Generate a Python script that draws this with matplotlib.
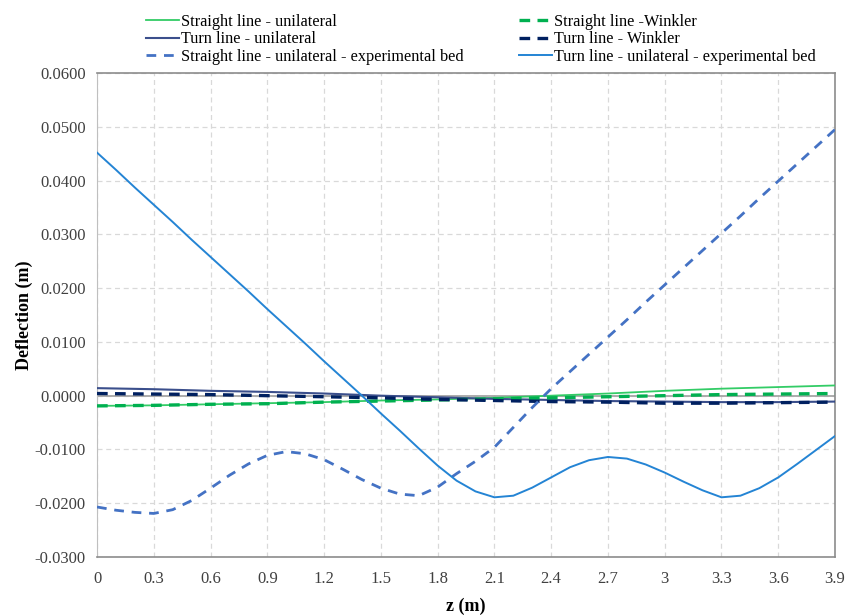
import matplotlib.pyplot as plt
from matplotlib.ticker import FixedLocator

plt.rcParams['font.family'] = ['Liberation Serif', 'DejaVu Serif']

# dense sampling for the experimental-bed curves
z_fine = [round(0.1 * i, 1) for i in range(40)]
turn_exp = [0.0452, 0.0420, 0.0387, 0.0355, 0.0323, 0.0290, 0.0258, 0.0226, 0.0194, 0.0161,
            0.0129, 0.0097, 0.0064, 0.0032, 0.0000, -0.0033, -0.0065, -0.0098, -0.0130, -0.0158,
            -0.0178, -0.0189, -0.0186, -0.0171, -0.0152, -0.0133, -0.0120, -0.0114, -0.0117, -0.0128,
            -0.0143, -0.0160, -0.0176, -0.0189, -0.0186, -0.0172, -0.0152, -0.0127, -0.0101, -0.0075]
straight_exp = [-0.0207, -0.0213, -0.0217, -0.0219, -0.0212, -0.0195, -0.0172, -0.0148, -0.0127, -0.0111,
                -0.0104, -0.0108, -0.0119, -0.0137, -0.0156, -0.0172, -0.0183, -0.0186, -0.0170, -0.0145,
                -0.0122, -0.0096, -0.0059, -0.0022, 0.0013, 0.0045, 0.0077, 0.0109, 0.0141, 0.0174,
                0.0206, 0.0238, 0.0270, 0.0302, 0.0334, 0.0367, 0.0399, 0.0431, 0.0463, 0.0495]

# coarse sampling for the model curves
z = [round(0.3 * i, 1) for i in range(14)]
straight_uni = [-0.0019, -0.0018, -0.0016, -0.0014, -0.0012, -0.0009, -0.0007,
                -0.0004, 0.0000, 0.0004, 0.0009, 0.0013, 0.0016, 0.0019]
straight_wink = [-0.0019, -0.0018, -0.0016, -0.0015, -0.0012, -0.0010, -0.0008,
                 -0.0006, -0.0004, -0.0002, 0.0000, 0.0002, 0.0003, 0.0004]
turn_uni = [0.0014, 0.0012, 0.0009, 0.0007, 0.0004, 0.0000, -0.0003,
            -0.0006, -0.0008, -0.0010, -0.0011, -0.0012, -0.0012, -0.0011]
turn_wink = [0.0004, 0.0003, 0.0002, 0.0000, -0.0002, -0.0004, -0.0007,
             -0.0009, -0.0011, -0.0012, -0.0014, -0.0014, -0.0013, -0.0012]

x_ticks = z
x_labels = ['0', '0.3', '0.6', '0.9', '1.2', '1.5', '1.8', '2.1', '2.4', '2.7', '3', '3.3', '3.6', '3.9']
y_ticks = [-0.03, -0.02, -0.01, 0.0, 0.01, 0.02, 0.03, 0.04, 0.05, 0.06]

fig = plt.figure(figsize=(8.48, 6.15), dpi=100)
ax = fig.add_axes([0.1144, 0.0943, 0.8703, 0.787])

ax.axhline(0, color='#a6a6a6', lw=1.3, zorder=1)

l1, = ax.plot(z, straight_uni, color='#33cc66', lw=1.3, label='Straight line - unilateral', zorder=3)
l2, = ax.plot(z, turn_uni, color='#3b4f8c', lw=1.5, label='Turn line - unilateral', zorder=3)
l3, = ax.plot(z_fine, straight_exp, color='#4472c4', lw=2.0, dashes=(3.5, 2.8),
              label='Straight line - unilateral - experimental bed', zorder=4)
l4, = ax.plot(z, straight_wink, color='#00b050', lw=2.4, dashes=(3.2, 2.2),
              label='Straight line -Winkler', zorder=3)
l5, = ax.plot(z, turn_wink, color='#002060', lw=2.4, dashes=(3.2, 2.2),
              label='Turn line - Winkler', zorder=3)
l6, = ax.plot(z_fine, turn_exp, color='#2484d4', lw=1.4,
              label='Turn line - unilateral - experimental bed', zorder=4)

ax.set_xlim(0, 3.9)
ax.set_ylim(-0.03, 0.06)
ax.xaxis.set_major_locator(FixedLocator(x_ticks))
ax.set_xticklabels(x_labels)
ax.set_yticks(y_ticks)
ax.set_yticklabels(['%.4f' % v for v in y_ticks])
ax.tick_params(length=0, labelsize=12, colors='#404040', pad=8)
ax.tick_params(axis='x', pad=10)

ax.grid(True, color='#d9d9d9', lw=0.9, dashes=(4, 3))
ax.set_axisbelow(True)

for side in ['top', 'right', 'bottom']:
    ax.spines[side].set_color('#8c8c8c')
    ax.spines[side].set_linewidth(1.2)
ax.spines['left'].set_color('#bfbfbf')

ax.set_xlabel('z (m)', fontsize=13, fontweight='bold', labelpad=8)
ax.set_ylabel('Deflection (m)', fontsize=13, fontweight='bold', labelpad=1)

fig.legend(handles=[l1, l2, l3, l4, l5, l6], ncol=2, frameon=False, fontsize=11.7,
           loc='upper left', bbox_to_anchor=(0.159, 0.996), labelspacing=0.1,
           handlelength=2.0, handletextpad=0.15, columnspacing=3.4, borderpad=0.2)

fig.savefig('out.png', dpi=100)
